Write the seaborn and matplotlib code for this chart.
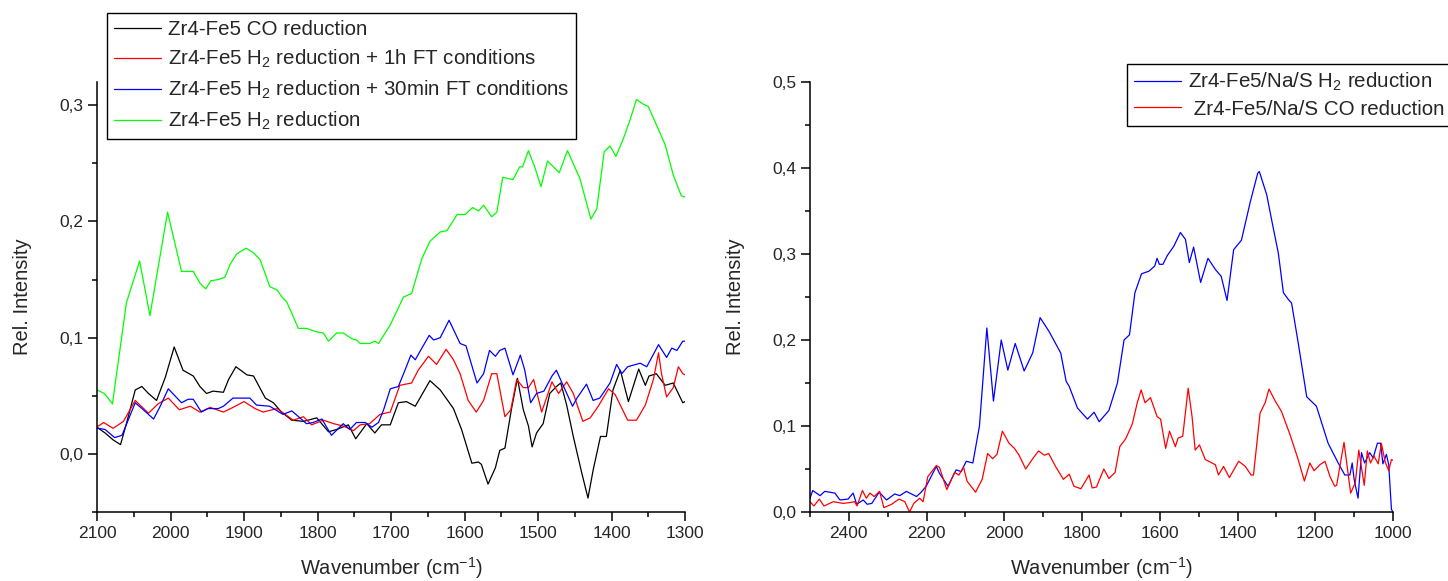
import matplotlib
matplotlib.use("Agg")
import matplotlib.pyplot as plt
from matplotlib.ticker import MultipleLocator, FuncFormatter
import seaborn as sns
import pandas as pd

sns.set_style("ticks")
plt.rcParams["font.family"] = ["Liberation Sans", "DejaVu Sans"]
plt.rcParams["mathtext.fontset"] = "custom"
plt.rcParams["mathtext.rm"] = "Liberation Sans"
plt.rcParams["mathtext.it"] = "Liberation Sans"

# ---- left panel: Zr4-Fe5 ----
wn_co = [2100, 2098, 2089, 2078, 2068, 2060, 2048, 2039, 2030, 2019, 2007, 1995, 1983, 1969, 1960,
         1951, 1942, 1928, 1921, 1911, 1896, 1887, 1871, 1860, 1849, 1835, 1819, 1801, 1785, 1774,
         1758, 1748, 1733, 1722, 1713, 1701, 1690, 1679, 1667, 1647, 1633, 1615, 1604, 1590, 1581,
         1577, 1568, 1558, 1552, 1545, 1536, 1528, 1520, 1513, 1508, 1502, 1493, 1484, 1475, 1469,
         1461, 1452, 1441, 1432, 1425, 1415, 1407, 1398, 1388, 1377, 1363, 1354, 1349, 1339, 1327,
         1316, 1303, 1300]
int_co = [0.023, 0.022, 0.018, 0.012, 0.008, 0.026, 0.055, 0.058, 0.052, 0.046, 0.066, 0.092, 0.072, 0.067, 0.058,
          0.052, 0.054, 0.053, 0.064, 0.075, 0.068, 0.067, 0.048, 0.044, 0.036, 0.029, 0.028, 0.031, 0.019, 0.021,
          0.025, 0.013, 0.026, 0.018, 0.025, 0.025, 0.044, 0.045, 0.041, 0.063, 0.055, 0.039, 0.021, -0.008, -0.007,
          -0.009, -0.026, -0.012, 0.003, 0.005, 0.039, 0.065, 0.038, 0.024, 0.006, 0.018, 0.026, 0.052, 0.058, 0.061,
          0.042, 0.015, -0.015, -0.038, -0.014, 0.015, 0.015, 0.055, 0.072, 0.045, 0.073, 0.059, 0.067, 0.069, 0.059,
          0.061, 0.044, 0.045]

wn_ft1h = [2100, 2098, 2091, 2078, 2064, 2048, 2030, 2017, 2003, 1988, 1973, 1960, 1946, 1928, 1915,
           1900, 1885, 1874, 1855, 1833, 1819, 1808, 1792, 1778, 1765, 1751, 1742, 1729, 1715, 1701,
           1688, 1672, 1663, 1649, 1638, 1625, 1615, 1606, 1595, 1584, 1574, 1563, 1556, 1545, 1537,
           1529, 1520, 1513, 1506, 1495, 1481, 1472, 1461, 1452, 1439, 1429, 1418, 1404, 1395, 1378,
           1366, 1354, 1343, 1336, 1332, 1325, 1316, 1309, 1303, 1300]
int_ft1h = [0.024, 0.024, 0.027, 0.022, 0.028, 0.046, 0.035, 0.043, 0.048, 0.038, 0.041, 0.036, 0.040, 0.036, 0.040,
            0.045, 0.039, 0.036, 0.039, 0.029, 0.032, 0.025, 0.029, 0.026, 0.024, 0.020, 0.025, 0.026, 0.034, 0.036,
            0.059, 0.061, 0.072, 0.084, 0.077, 0.090, 0.081, 0.069, 0.046, 0.036, 0.046, 0.069, 0.069, 0.032, 0.038,
            0.064, 0.057, 0.057, 0.064, 0.036, 0.062, 0.052, 0.062, 0.052, 0.028, 0.031, 0.041, 0.056, 0.051, 0.029,
            0.029, 0.042, 0.064, 0.087, 0.069, 0.049, 0.057, 0.075, 0.069, 0.068]

wn_ft30 = [2100, 2098, 2089, 2076, 2066, 2048, 2037, 2023, 2014, 2003, 1985, 1976, 1969, 1958, 1949,
           1935, 1928, 1915, 1892, 1883, 1865, 1847, 1835, 1824, 1815, 1806, 1794, 1781, 1765, 1756,
           1747, 1735, 1726, 1717, 1710, 1701, 1690, 1681, 1673, 1667, 1658, 1648, 1642, 1633, 1621,
           1606, 1598, 1583, 1574, 1566, 1558, 1552, 1545, 1534, 1524, 1518, 1510, 1502, 1492, 1481,
           1475, 1468, 1453, 1447, 1434, 1425, 1416, 1402, 1393, 1386, 1378, 1361, 1352, 1336, 1325,
           1318, 1311, 1303, 1300]
int_ft30 = [0.022, 0.022, 0.021, 0.014, 0.016, 0.044, 0.038, 0.030, 0.041, 0.056, 0.044, 0.047, 0.047, 0.036, 0.039,
            0.039, 0.041, 0.048, 0.048, 0.042, 0.041, 0.034, 0.037, 0.031, 0.026, 0.027, 0.030, 0.016, 0.026, 0.021,
            0.027, 0.027, 0.023, 0.027, 0.038, 0.056, 0.058, 0.072, 0.085, 0.081, 0.091, 0.102, 0.098, 0.100, 0.115,
            0.095, 0.093, 0.061, 0.069, 0.089, 0.084, 0.089, 0.091, 0.068, 0.085, 0.072, 0.044, 0.052, 0.054, 0.067,
            0.072, 0.062, 0.041, 0.048, 0.060, 0.046, 0.048, 0.061, 0.077, 0.069, 0.075, 0.078, 0.075, 0.094, 0.083,
            0.091, 0.089, 0.097, 0.097]

wn_h2 = [2100, 2090, 2079, 2060, 2042, 2028, 2004, 1985, 1969, 1960, 1952, 1945, 1935, 1926, 1919,
         1910, 1897, 1887, 1878, 1865, 1855, 1847, 1842, 1826, 1815, 1801, 1792, 1785, 1774, 1765,
         1753, 1747, 1742, 1729, 1722, 1717, 1701, 1683, 1672, 1658, 1647, 1633, 1624, 1610, 1599,
         1589, 1581, 1574, 1563, 1556, 1548, 1534, 1525, 1521, 1513, 1504, 1496, 1487, 1479, 1471,
         1460, 1443, 1428, 1420, 1410, 1402, 1394, 1384, 1375, 1366, 1357, 1350, 1343, 1327, 1316,
         1305, 1300]
int_h2 = [0.055, 0.052, 0.043, 0.130, 0.166, 0.119, 0.208, 0.157, 0.157, 0.147, 0.142, 0.149, 0.150, 0.152, 0.163,
          0.172, 0.177, 0.173, 0.167, 0.144, 0.141, 0.134, 0.131, 0.108, 0.108, 0.105, 0.104, 0.097, 0.104, 0.104,
          0.099, 0.098, 0.095, 0.095, 0.097, 0.095, 0.111, 0.135, 0.138, 0.168, 0.183, 0.191, 0.192, 0.206, 0.206,
          0.212, 0.209, 0.214, 0.204, 0.208, 0.238, 0.236, 0.247, 0.247, 0.261, 0.246, 0.230, 0.252, 0.247, 0.242,
          0.261, 0.237, 0.202, 0.211, 0.260, 0.265, 0.256, 0.271, 0.287, 0.305, 0.301, 0.299, 0.289, 0.266, 0.240,
          0.222, 0.221]

left_labels = ["Zr4-Fe5 CO reduction",
               r"Zr4-Fe5 H$_2$ reduction + 1h FT conditions",
               r"Zr4-Fe5 H$_2$ reduction + 30min FT conditions",
               r"Zr4-Fe5 H$_2$ reduction"]

# ---- right panel: Zr4-Fe5/Na/S ----
wn_nas_h2 = [2500, 2493, 2474, 2462, 2436, 2423, 2402, 2389, 2380, 2363, 2353, 2341, 2322, 2303, 2282,
             2269, 2252, 2226, 2214, 2201, 2175, 2167, 2145, 2124, 2111, 2098, 2081, 2064, 2045, 2028,
             2008, 1991, 1972, 1949, 1927, 1908, 1885, 1855, 1841, 1833, 1812, 1786, 1769, 1756, 1731,
             1709, 1692, 1678, 1664, 1647, 1628, 1613, 1607, 1601, 1592, 1581, 1564, 1547, 1534, 1524,
             1513, 1495, 1476, 1457, 1442, 1427, 1410, 1390, 1367, 1348, 1344, 1325, 1308, 1295, 1282,
             1269, 1261, 1244, 1222, 1197, 1167, 1141, 1124, 1111, 1105, 1100, 1090, 1081, 1073, 1060,
             1051, 1040, 1032, 1026, 1017, 1011, 1004, 1000]
int_nas_h2 = [0.016, 0.025, 0.019, 0.024, 0.022, 0.014, 0.015, 0.022, 0.009, 0.014, 0.009, 0.010, 0.023, 0.014, 0.021,
              0.019, 0.024, 0.018, 0.023, 0.030, 0.053, 0.045, 0.030, 0.049, 0.047, 0.059, 0.057, 0.100, 0.214, 0.129,
              0.200, 0.165, 0.196, 0.164, 0.185, 0.226, 0.210, 0.185, 0.152, 0.146, 0.121, 0.108, 0.116, 0.105, 0.118,
              0.150, 0.200, 0.206, 0.255, 0.277, 0.280, 0.286, 0.295, 0.288, 0.288, 0.298, 0.309, 0.325, 0.317, 0.290,
              0.308, 0.267, 0.295, 0.282, 0.274, 0.246, 0.305, 0.316, 0.361, 0.394, 0.396, 0.369, 0.330, 0.301, 0.255,
              0.247, 0.243, 0.197, 0.134, 0.123, 0.080, 0.057, 0.043, 0.043, 0.057, 0.038, 0.016, 0.069, 0.057, 0.069,
              0.063, 0.080, 0.080, 0.056, 0.067, 0.055, 0.003, 0.000]

wn_nas_co = [2500, 2490, 2476, 2464, 2440, 2415, 2397, 2385, 2379, 2365, 2355, 2346, 2335, 2321, 2310,
             2290, 2271, 2256, 2244, 2233, 2218, 2209, 2197, 2175, 2167, 2148, 2128, 2117, 2105, 2096,
             2074, 2057, 2043, 2030, 2019, 2005, 1988, 1974, 1962, 1945, 1927, 1912, 1897, 1886, 1867,
             1848, 1833, 1821, 1803, 1782, 1774, 1763, 1744, 1731, 1715, 1703, 1688, 1671, 1658, 1648,
             1638, 1624, 1607, 1598, 1585, 1575, 1560, 1553, 1541, 1527, 1517, 1509, 1498, 1483, 1457,
             1449, 1436, 1421, 1397, 1380, 1365, 1359, 1342, 1329, 1319, 1303, 1287, 1265, 1244, 1228,
             1214, 1203, 1188, 1175, 1162, 1150, 1145, 1126, 1109, 1097, 1088, 1074, 1066, 1058, 1049,
             1038, 1030, 1020, 1011, 1004, 1000]
int_nas_co = [0.012, 0.007, 0.015, 0.007, 0.012, 0.010, 0.011, 0.012, 0.007, 0.025, 0.016, 0.022, 0.018, 0.024, 0.005,
              0.009, 0.015, 0.012, 0.000, 0.010, 0.016, 0.012, 0.041, 0.054, 0.052, 0.026, 0.046, 0.043, 0.052, 0.036,
              0.023, 0.038, 0.068, 0.062, 0.067, 0.094, 0.080, 0.074, 0.066, 0.050, 0.062, 0.071, 0.066, 0.068, 0.052,
              0.038, 0.044, 0.030, 0.027, 0.043, 0.028, 0.029, 0.050, 0.039, 0.046, 0.076, 0.085, 0.102, 0.127, 0.142,
              0.127, 0.133, 0.111, 0.108, 0.074, 0.094, 0.076, 0.086, 0.088, 0.144, 0.111, 0.072, 0.078, 0.061, 0.055,
              0.043, 0.053, 0.040, 0.059, 0.053, 0.043, 0.043, 0.115, 0.127, 0.143, 0.129, 0.117, 0.090, 0.061, 0.036,
              0.057, 0.048, 0.055, 0.059, 0.041, 0.030, 0.031, 0.081, 0.022, 0.034, 0.072, 0.031, 0.071, 0.057, 0.065,
              0.056, 0.080, 0.058, 0.048, 0.061, 0.060]

right_labels = [r"Zr4-Fe5/Na/S H$_2$ reduction", " Zr4-Fe5/Na/S CO reduction"]


def comma(v, pos):
    return f"{v:.1f}".replace(".", ",")


def style_axis(ax, xlim, ylim, xmaj, xmin):
    ax.set_xlim(*xlim)
    ax.set_ylim(*ylim)
    ax.xaxis.set_major_locator(MultipleLocator(xmaj))
    ax.xaxis.set_minor_locator(MultipleLocator(xmin))
    ax.yaxis.set_major_locator(MultipleLocator(0.1))
    ax.yaxis.set_minor_locator(MultipleLocator(0.05))
    ax.yaxis.set_major_formatter(FuncFormatter(comma))
    ax.tick_params(which="major", direction="out", length=6.5, width=1.1, labelsize=12.5, color="black")
    ax.tick_params(which="minor", direction="out", length=3.8, width=1.1, color="black")
    for s in ["top", "right"]:
        ax.spines[s].set_visible(False)
    for s in ["left", "bottom"]:
        ax.spines[s].set_color("black")
        ax.spines[s].set_linewidth(1.1)
    ax.set_xlabel(r"Wavenumber (cm$^{-1}$)", fontsize=14.5)
    ax.set_ylabel("Rel. Intensity", fontsize=14.5)
    ax.xaxis.set_label_coords(0.5, -0.10)


fig = plt.figure(figsize=(14.48, 5.81), dpi=100)
ax1 = fig.add_axes([97 / 1448, 1 - 512 / 581, 588 / 1448, 430 / 581])
ax2 = fig.add_axes([810 / 1448, 1 - 512 / 581, 583 / 1448, 430 / 581])

left = [(wn_co, int_co, "#000000"), (wn_ft1h, int_ft1h, "#ff0000"),
        (wn_ft30, int_ft30, "#0000ff"), (wn_h2, int_h2, "#00ff00")]
for (wn, val, col), lab in zip(left, left_labels):
    df = pd.DataFrame({"wn": wn, "val": val})
    sns.lineplot(data=df, x="wn", y="val", ax=ax1, color=col, lw=0.9,
                 sort=False, estimator=None, label=lab)

right = [(wn_nas_h2, int_nas_h2, "#0000ff"), (wn_nas_co, int_nas_co, "#ff0000")]
for (wn, val, col), lab in zip(right, right_labels):
    df = pd.DataFrame({"wn": wn, "val": val})
    sns.lineplot(data=df, x="wn", y="val", ax=ax2, color=col, lw=0.9,
                 sort=False, estimator=None, label=lab)

style_axis(ax1, (2100, 1300), (-0.05, 0.32), 100, 50)
style_axis(ax2, (2500, 1000), (0.0, 0.5), 200, 100)
ax1.yaxis.set_label_coords(-0.11, 0.5)
ax2.yaxis.set_label_coords(-0.112, 0.5)

leg_kw = dict(loc="upper left", fontsize=14.8, frameon=True, fancybox=False,
              edgecolor="black", framealpha=1, handlelength=2.3, handletextpad=0.3,
              borderpad=0.35, borderaxespad=0)
l1 = ax1.legend(bbox_to_anchor=(10 / 588, (512 - 13) / 430), labelspacing=0.42, **leg_kw)
l2 = ax2.legend(bbox_to_anchor=((1127 - 810) / 583, (512 - 64) / 430), labelspacing=0.3, **leg_kw)
for lg in (l1, l2):
    lg.get_frame().set_linewidth(1.0)
    for h in lg.get_lines():
        h.set_linewidth(0.9)

fig.savefig("out.png", dpi=100)
